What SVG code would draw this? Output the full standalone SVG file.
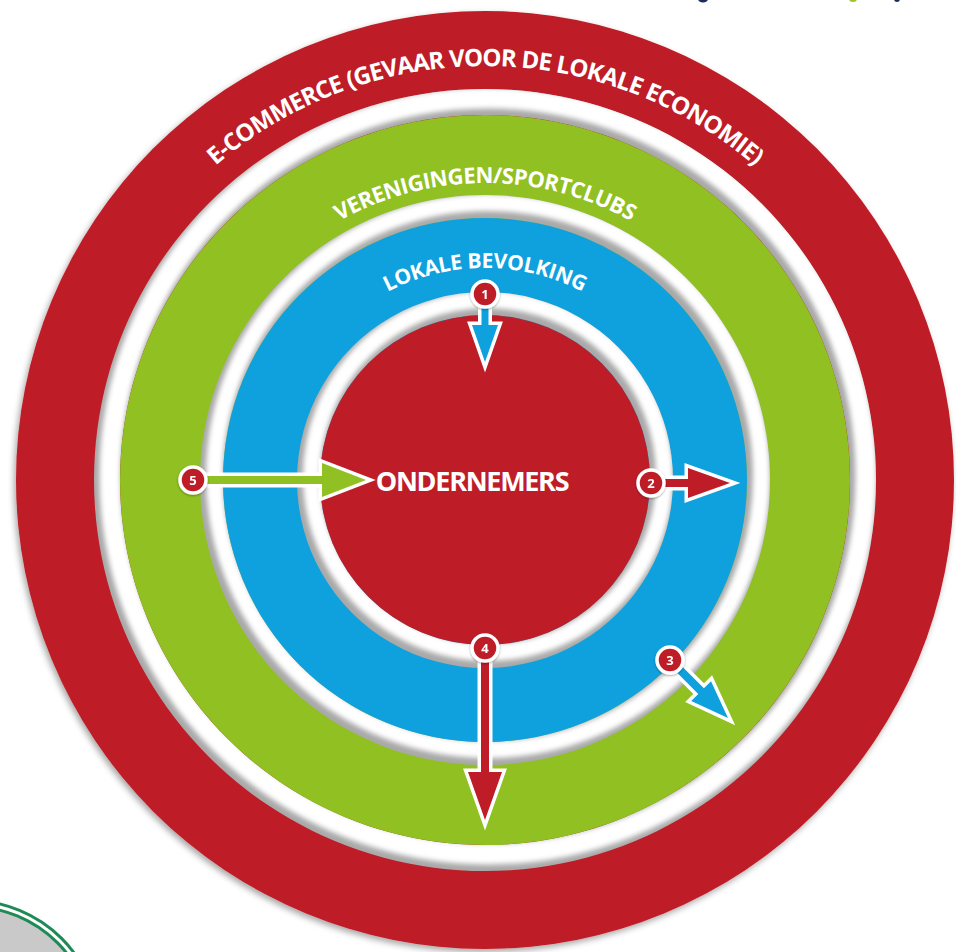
<svg xmlns="http://www.w3.org/2000/svg" width="956" height="952" viewBox="0 0 956 952">
<style>
.red{fill:#be1d27}
.green{fill:#90c021}
.blue{fill:#0fa0de}
.ring{font-family:"Open Sans","Liberation Sans",sans-serif;font-weight:700;fill:#ffffff}
.num{font-family:"Open Sans","Liberation Sans",sans-serif;font-weight:700;font-size:13px;fill:#ffffff;text-anchor:middle}
.badge{fill:#be1d27;stroke:#ffffff;stroke-width:3.5}
.arrow{stroke:#ffffff;stroke-width:7;paint-order:stroke;stroke-linejoin:miter;stroke-miterlimit:10}
</style>
<defs>
<filter id="drop" x="-10%" y="-10%" width="120%" height="120%">
<feDropShadow dx="-2" dy="3" stdDeviation="3" flood-color="#000" flood-opacity="0.35"/>
</filter>
<filter id="blur" x="-10%" y="-10%" width="120%" height="120%">
<feGaussianBlur stdDeviation="2.5"/>
</filter>
<filter id="bshadow" x="-50%" y="-50%" width="200%" height="200%">
<feDropShadow dx="0" dy="1" stdDeviation="1.2" flood-color="#000" flood-opacity="0.35"/>
</filter>
<clipPath id="clipA"><path clip-rule="evenodd" d="M485,89a391,391 0 1,0 0.01,0Z M485,115a365,365 0 1,0 0.01,0Z"/></clipPath>
<clipPath id="clipB"><path clip-rule="evenodd" d="M485,195a285,285 0 1,0 0.01,0Z M485,218a262,262 0 1,0 0.01,0Z"/></clipPath>
<clipPath id="clipC"><path clip-rule="evenodd" d="M485,292a188,188 0 1,0 0.01,0Z M485,315a165,165 0 1,0 0.01,0Z"/></clipPath>
<path id="arcE" d="M71,480 A414,414 0 0 1 899,480"/>
<path id="arcV" d="M188,480 A297,297 0 0 1 782,480"/>
<path id="arcL" d="M273,480 A212,212 0 0 1 697,480"/>
</defs>
<rect width="956" height="952" fill="#ffffff"/>
<g id="logo-fragments">
<ellipse cx="703" cy="-1" rx="5" ry="3.5" fill="#1f2a5c"/>
<ellipse cx="853" cy="-1" rx="4" ry="3" fill="#9cc42a"/>
<ellipse cx="897" cy="-1" rx="3" ry="3" fill="#1f2a5c"/>
</g>
<g id="corner-badge">
<circle cx="-30" cy="1030" r="131" fill="#1f8a55"/>
<circle cx="-30" cy="1030" r="128" fill="#ffffff"/>
<circle cx="-30" cy="1030" r="125" fill="#1f8a55"/>
<circle cx="-30" cy="1030" r="122" fill="#c9c9c9"/>
</g>
<g id="e-commerce">
<circle cx="485" cy="480" r="469" class="red" filter="url(#drop)"/>
<text class="ring" font-size="24" letter-spacing="-0.9"><textPath href="#arcE" startOffset="50%" text-anchor="middle">E-COMMERCE (GEVAAR VOOR DE LOKALE ECONOMIE)</textPath></text>
</g>
<g id="gap-a" clip-path="url(#clipA)">
<rect width="956" height="952" fill="#a9a9a9"/>
<circle cx="488" cy="476" r="378" fill="none" stroke="#ffffff" stroke-width="21" filter="url(#blur)"/>
</g>
<g id="verenigingen">
<circle cx="485" cy="480" r="365" class="green"/>
<text class="ring" font-size="22" letter-spacing="-0.5"><textPath href="#arcV" startOffset="50%" text-anchor="middle">VERENIGINGEN/SPORTCLUBS</textPath></text>
</g>
<g id="gap-b" clip-path="url(#clipB)">
<rect width="956" height="952" fill="#a9a9a9"/>
<circle cx="488" cy="476" r="273.5" fill="none" stroke="#ffffff" stroke-width="17" filter="url(#blur)"/>
</g>
<g id="lokale-bevolking">
<circle cx="485" cy="480" r="262" class="blue"/>
<text class="ring" font-size="21" letter-spacing="-0.3"><textPath href="#arcL" startOffset="50%" text-anchor="middle">LOKALE BEVOLKING</textPath></text>
</g>
<g id="gap-c" clip-path="url(#clipC)">
<rect width="956" height="952" fill="#a9a9a9"/>
<circle cx="488" cy="476" r="176.5" fill="none" stroke="#ffffff" stroke-width="17" filter="url(#blur)"/>
</g>
<g id="ondernemers">
<circle cx="485" cy="480" r="165" class="red"/>
<text class="ring" x="472" y="491" font-size="27" letter-spacing="-1.3" text-anchor="middle">ONDERNEMERS</text>
</g>
<g id="connectors">
<polygon class="arrow blue" transform="translate(485,293) rotate(90)" points="0,-3.5 32,-3.5 32,-13 69,0 32,13 32,3.5 0,3.5"/>
<polygon class="arrow red" transform="translate(651,483)" points="0,-4 37,-4 37,-15 79,0 37,15 37,4 0,4"/>
<polygon class="arrow blue" transform="translate(670,660) rotate(45)" points="0,-4 44,-4 44,-14 82,0 44,14 44,4 0,4"/>
<polygon class="arrow red" transform="translate(485,648) rotate(90)" points="0,-4 124,-4 124,-17 172,0 124,17 124,4 0,4"/>
<polygon class="arrow green" transform="translate(193,480)" points="0,-4 129,-4 129,-17 173,0 129,17 129,4 0,4"/>
</g>
<g id="badge-1" filter="url(#bshadow)"><circle class="badge" cx="485" cy="294" r="13"/><text class="num" x="485" y="298.5">1</text></g>
<g id="badge-2" filter="url(#bshadow)"><circle class="badge" cx="651" cy="483" r="13"/><text class="num" x="651" y="487.5">2</text></g>
<g id="badge-3" filter="url(#bshadow)"><circle class="badge" cx="670" cy="660" r="13"/><text class="num" x="670" y="664.5">3</text></g>
<g id="badge-4" filter="url(#bshadow)"><circle class="badge" cx="485" cy="648" r="13"/><text class="num" x="485" y="652.5">4</text></g>
<g id="badge-5" filter="url(#bshadow)"><circle class="badge" cx="193" cy="480" r="13"/><text class="num" x="193" y="484.5">5</text></g>
</svg>
